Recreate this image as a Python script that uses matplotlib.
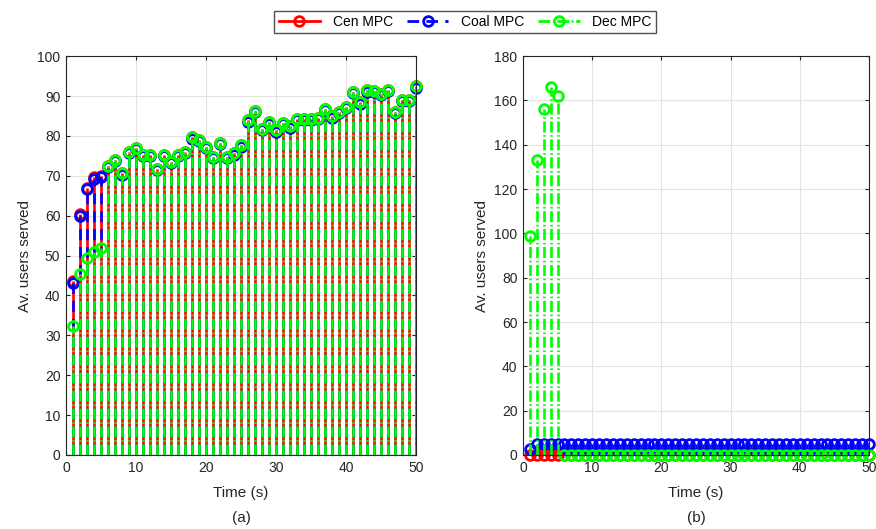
import numpy as np
import matplotlib
matplotlib.use("Agg")
import matplotlib.pyplot as plt
from matplotlib.lines import Line2D
from matplotlib.legend_handler import HandlerLine2D

plt.rcParams['font.family'] = ['Liberation Sans', 'DejaVu Sans']

t = np.arange(1, 51)

# (a) average users served
dec_a = [32.3, 45.5, 49.5, 51.0, 52.0, 72.4, 74.0, 70.6, 76.0, 76.9,
         75.2, 75.2, 71.8, 75.3, 73.5, 75.3, 76.0, 79.6, 78.9, 77.2,
         74.7, 78.2, 74.7, 75.6, 77.6, 83.9, 86.2, 81.8, 83.4, 81.4,
         83.2, 82.4, 84.3, 84.3, 84.3, 84.6, 86.8, 84.9, 86.0, 87.2,
         91.0, 88.4, 91.4, 91.2, 90.6, 91.6, 86.0, 89.0, 89.0, 92.4]
cen_a = [43.5, 60.5, 67.0, 69.6, 70.0] + dec_a[5:]
coal_a = [43.0, 60.0, 66.6, 69.2, 69.7] + [v - 0.3 for v in dec_a[5:]]

# (b)
dec_b = [99, 133, 156, 166, 162] + [0] * 45
cen_b = [0] * 50
coal_b = [2.5] + [5] * 49

styles = [('Cen MPC', '#ff0000', '-'),
          ('Coal MPC', '#0000ff', (0, (4.2, 2.6))),
          ('Dec MPC', '#00ff00', (0, (4.2, 1.0, 0.6, 1.0)))]

fig = plt.figure(figsize=(8.76, 5.29), dpi=100)
ax1 = fig.add_axes([0.0753, 0.1399, 0.3995, 0.754])
ax2 = fig.add_axes([0.597, 0.1399, 0.395, 0.754])

def draw(ax, series):
    for (name, col, ls), vals in zip(styles, series):
        ml, sl, bl = ax.stem(t, vals, basefmt=' ')
        sl.set_color(col)
        sl.set_linewidth(1.9)
        sl.set_linestyle(ls)
        ml.set_color(col)
        ml.set_marker('o')
        ml.set_markersize(7)
        ml.set_markerfacecolor('none')
        ml.set_markeredgewidth(2.0)
        ml.set_clip_on(False)
    ax.axhline(0, color='#262626', lw=0.8, zorder=1)

def style(ax, ymax, ystep, label):
    ax.set_xlim(0, 50)
    ax.set_ylim(0, ymax)
    ax.set_xticks(np.arange(0, 51, 10))
    ax.set_yticks(np.arange(0, ymax + 1, ystep))
    ax.grid(True, color='#e3e3e3', lw=0.8)
    ax.set_axisbelow(True)
    ax.tick_params(direction='in', top=True, right=True, labelsize=10,
                   colors='#262626', length=3, pad=4)
    for s in ax.spines.values():
        s.set_color('#262626')
        s.set_linewidth(0.8)
    ax.set_xlabel('Time (s)', fontsize=11, color='#262626', labelpad=8)
    ax.set_ylabel('Av. users served', fontsize=11, color='#262626')
    pos = ax.get_position()
    fig.text((pos.x0 + pos.x1) / 2, 0.021, label, ha='center', va='center',
             fontsize=11, color='#262626')

draw(ax1, [cen_a, coal_a, dec_a])
draw(ax2, [cen_b, coal_b, dec_b])
style(ax1, 100, 10, '(a)')
style(ax2, 180, 20, '(b)')


class EndMarker(HandlerLine2D):
    # marker at the right end of the legend line, like MATLAB
    def get_xdata(self, legend, xdescent, ydescent, width, height, fontsize):
        end = -xdescent + width
        return np.array([-xdescent, end]), np.array([end])


handles = [Line2D([], [], color=c, ls=ls, lw=2, marker='o', mfc='none',
                  mew=2, ms=7) for _, c, ls in styles]
fig.legend(handles, [s[0] for s in styles], loc='center', ncol=3,
           bbox_to_anchor=(0.531, 0.958), fontsize=10, frameon=True,
           fancybox=False, edgecolor='#262626', handlelength=3.0,
           handler_map={Line2D: EndMarker()},
           columnspacing=1.0, borderpad=0.3, handletextpad=0.9)

fig.savefig('out.png', dpi=100)
